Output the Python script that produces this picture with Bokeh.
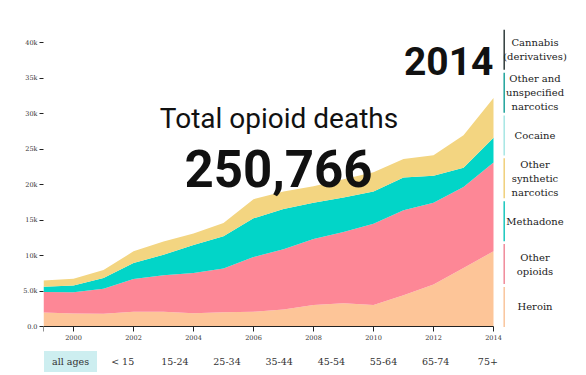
from bokeh.plotting import figure
from bokeh.models import ColumnDataSource, FixedTicker, Label
from bokeh.core.properties import value
from bokeh.embed import file_html
from bokeh.resources import INLINE

# ---------------- data ----------------
years = list(range(1999, 2015))
heroin = [1960, 1840, 1780, 2090, 2080, 1880, 2010, 2090, 2400, 3040, 3280, 3040, 4400, 5930, 8260, 10600]
other_opioids = [2900, 3000, 3550, 4600, 5150, 5650, 6150, 7700, 8500, 9300, 10050, 11450, 12000, 11500, 11400, 12500]
methadone = [750, 950, 1500, 2250, 2900, 3950, 4550, 5450, 5650, 5100, 4850, 4550, 4600, 3800, 2700, 3500]
other_synthetic = [890, 930, 1120, 1650, 1860, 1630, 1870, 2700, 2470, 2330, 2570, 2710, 2600, 2900, 4600, 5600]

stack_fields = ["heroin", "other_opioids", "methadone", "other_synthetic"]
area_colors = ["#fdc598", "#fd8796", "#02d5c8", "#f3d581"]

legend_labels = [["Cannabis", "(derivatives)"],
                 ["Other and", "unspecified", "narcotics"],
                 ["Cocaine"],
                 ["Other", "synthetic", "narcotics"],
                 ["Methadone"],
                 ["Other", "opioids"],
                 ["Heroin"]]
legend_colors = ["#2f3b3b", "#1fa39b", "#a6e6e4", "#f0cf7a", "#19c7bd", "#f08a99", "#f9c59c"]

age_groups = ["all ages", "< 15", "15-24", "25-34", "35-44", "45-54", "55-64", "65-74", "75+"]
selected_age = "all ages"

y_ticks = [0, 5000, 10000, 15000, 20000, 25000, 30000, 35000, 40000]
y_tick_labels = ["0.0", "5.0k", "10k", "15k", "20k", "25k", "30k", "35k", "40k"]
x_ticks = [2000, 2002, 2004, 2006, 2008, 2010, 2012, 2014]

headline = "Total opioid deaths"
total_deaths = "250,766"
current_year = "2014"

# ---------------- layout ----------------
W, H = 586, 375
LEFT = 43            # frame left edge (page px) = first year
ZERO_PY = 326.0      # page y of value 0
PX_PER_UNIT = 298.0 / 42000.0
PX_PER_YEAR = 30.0
x0 = years[0]
x_end = x0 + (W - LEFT) / PX_PER_YEAR
y_start = -(H - ZERO_PY) / PX_PER_UNIT
y_end = ZERO_PY / PX_PER_UNIT

SERIF = value("'DejaVu Serif', serif")


def px2x(px):  # page pixel -> data x
    return x0 + (px - LEFT) / PX_PER_YEAR


def py2y(py):  # page pixel -> data y
    return (ZERO_PY - py) / PX_PER_UNIT


p = figure(width=W, height=H, x_range=(x0, x_end), y_range=(y_start, y_end),
           output_backend="svg", toolbar_location=None,
           min_border_left=LEFT, min_border_right=0,
           min_border_top=0, min_border_bottom=0,
           background_fill_color="white", border_fill_color="white")
p.grid.visible = False
p.outline_line_color = None

src = ColumnDataSource(dict(year=years, heroin=heroin, other_opioids=other_opioids,
                            methadone=methadone, other_synthetic=other_synthetic))
p.varea_stack(stackers=stack_fields, x="year", color=area_colors, source=src)

# axes
xa = p.xaxis[0]
xa.fixed_location = 0
xa.ticker = FixedTicker(ticks=[x0] + x_ticks)
xa.major_label_overrides = {x0: ""}
xa.bounds = (x0, years[-1])
xa.axis_line_color = "#222222"
xa.major_tick_line_color = "#222222"
xa.major_tick_out = 5
xa.major_tick_in = 0
xa.minor_tick_out = 0
xa.minor_tick_in = 0
xa.major_label_standoff = 3
xa.major_label_text_font = "'DejaVu Serif', serif"
xa.major_label_text_font_size = "6.5px"
xa.major_label_text_color = "#333333"

ya = p.yaxis[0]
ya.ticker = FixedTicker(ticks=y_ticks)
ya.major_label_overrides = dict(zip(y_ticks, y_tick_labels))
ya.axis_line_color = None
ya.major_tick_line_color = "#222222"
ya.major_tick_out = 4
ya.major_tick_in = 0
ya.minor_tick_out = 0
ya.minor_tick_in = 0
ya.major_label_standoff = 2
ya.major_label_text_font = "'DejaVu Serif', serif"
ya.major_label_text_font_size = "6.5px"
ya.major_label_text_color = "#333333"

# big texts
p.text(x=[years[-1]], y=[py2y(60.7)], text=[current_year], text_font=value("Roboto"),
       text_font_style="bold", text_font_size="39px", text_align="right",
       text_baseline="alphabetic", text_color="#111111")
p.text(x=[px2x(278.5)], y=[py2y(118.3)], text=[headline], text_font=value("Roboto"),
       text_font_size="28px", text_align="center", text_baseline="alphabetic",
       text_color="#111111")
p.text(x=[px2x(278)], y=[py2y(168.3)], text=[total_deaths], text_font=value("Roboto"),
       text_font_style="bold", text_font_size="51px", text_align="center",
       text_baseline="alphabetic", text_color="#111111")

# legend (right side)
leg_top, leg_bottom, bar_h, line_h = 29.3, 329.3, 40.0, 14.0
slot = (leg_bottom - leg_top) / len(legend_labels)
bar_x = px2x(503.7)
text_x = px2x(534.5)
seg = dict(x0=[], y0=[], x1=[], y1=[], c=[])
tx, ty, tt = [], [], []
for i, (lines, col) in enumerate(zip(legend_labels, legend_colors)):
    top = leg_top + i * slot
    seg["x0"].append(bar_x); seg["x1"].append(bar_x)
    seg["y0"].append(py2y(top)); seg["y1"].append(py2y(top + bar_h)); seg["c"].append(col)
    center = top + bar_h / 2
    n = len(lines)
    for j, ln in enumerate(lines):
        tx.append(text_x)
        ty.append(py2y(center + (j - (n - 1) / 2) * line_h))
        tt.append(ln)
p.segment(x0="x0", y0="y0", x1="x1", y1="y1", color="c", line_width=1.5,
          source=ColumnDataSource(seg))
p.text(x=tx, y=ty, text=tt, text_font=SERIF, text_font_size="10px",
       text_align="center", text_baseline="middle", text_color="#222222")

# age selector row
age_y = py2y(361)
for k, ag in enumerate(age_groups):
    cx = 70 + k * 52.17
    kw = {}
    if ag == selected_age:
        kw = dict(background_fill_color="#cdeef0", padding=dict(left=8, right=8, top=5, bottom=5))
    p.add_layout(Label(x=px2x(cx), y=age_y, text=ag, text_align="center",
                       text_baseline="middle", text_font="'DejaVu Serif', serif",
                       text_font_size="9.5px", text_color="#333333", **kw))

open("out.html", "w").write(file_html(p, INLINE))
